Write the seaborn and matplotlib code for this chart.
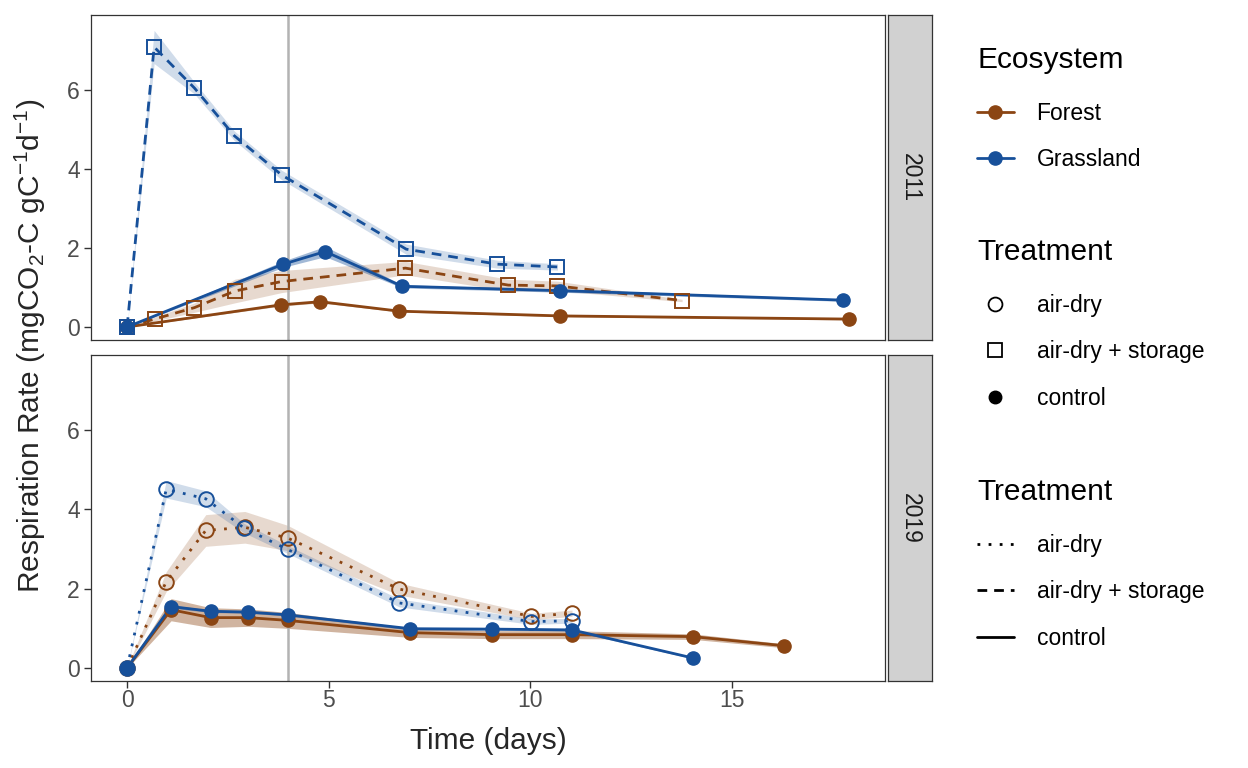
import numpy as np
import pandas as pd
import matplotlib
matplotlib.use("Agg")
import matplotlib.pyplot as plt
from matplotlib.lines import Line2D
import seaborn as sns

years = ["2011", "2019"]
ecosystems = ["Forest", "Grassland"]
treatments = ["air-dry", "air-dry + storage", "control"]

# 2011 -- grassland, air-dry + storage
g11_store_day = [0, 0.67, 1.67, 2.66, 3.83, 6.92, 9.18, 10.67]
g11_store_rate = [0, 7.09, 6.05, 4.84, 3.85, 1.97, 1.59, 1.52]
g11_store_se = [0.02, 0.42, 0.15, 0.12, 0.12, 0.13, 0.10, 0.08]
# 2011 -- grassland, control
g11_ctrl_day = [0, 3.87, 4.91, 6.82, 10.74, 17.74]
g11_ctrl_rate = [0, 1.59, 1.91, 1.03, 0.92, 0.68]
g11_ctrl_se = [0.01, 0.08, 0.13, 0.04, 0.04, 0.03]
# 2011 -- forest, air-dry + storage
f11_store_day = [0, 0.68, 1.67, 2.67, 3.83, 6.90, 9.45, 10.67, 13.76]
f11_store_rate = [0, 0.20, 0.49, 0.91, 1.15, 1.49, 1.06, 1.04, 0.67]
f11_store_se = [0.01, 0.05, 0.12, 0.30, 0.28, 0.17, 0.15, 0.12, 0.03]
# 2011 -- forest, control
f11_ctrl_day = [0, 3.81, 4.79, 6.75, 10.74, 17.89]
f11_ctrl_rate = [0, 0.56, 0.64, 0.40, 0.28, 0.20]
f11_ctrl_se = [0.01, 0.03, 0.03, 0.02, 0.02, 0.02]

# 2019 -- grassland, air-dry
g19_dry_day = [0, 0.97, 1.95, 2.90, 3.98, 6.75, 10.02, 11.03]
g19_dry_rate = [0, 4.51, 4.27, 3.53, 2.99, 1.64, 1.17, 1.19]
g19_dry_se = [0.01, 0.22, 0.20, 0.12, 0.10, 0.10, 0.07, 0.06]
# 2019 -- forest, air-dry
f19_dry_day = [0, 0.97, 1.95, 2.92, 3.98, 6.75, 10.02, 11.03]
f19_dry_rate = [0, 2.18, 3.47, 3.55, 3.28, 1.99, 1.30, 1.38]
f19_dry_se = [0.01, 0.25, 0.40, 0.40, 0.32, 0.15, 0.08, 0.08]
# 2019 -- grassland, control
g19_ctrl_day = [0, 1.09, 2.07, 3.00, 3.98, 7.02, 9.04, 11.03, 14.03]
g19_ctrl_rate = [0, 1.55, 1.43, 1.41, 1.34, 0.99, 0.98, 0.96, 0.25]
g19_ctrl_se = [0.01, 0.04, 0.03, 0.03, 0.03, 0.03, 0.03, 0.03, 0.02]
# 2019 -- forest, control
f19_ctrl_day = [0, 1.09, 2.07, 3.00, 3.98, 7.02, 9.04, 11.03, 14.03, 16.29]
f19_ctrl_rate = [0, 1.47, 1.27, 1.27, 1.20, 0.89, 0.84, 0.84, 0.79, 0.56]
f19_ctrl_se = [0.01, 0.28, 0.25, 0.22, 0.20, 0.12, 0.10, 0.10, 0.07, 0.05]

x_ticks = [0, 5, 10, 15]
y_ticks = [0, 2, 4, 6]
rewet_day = 4


def series(year, eco, trt, days, rates, ses):
    return pd.DataFrame({"year": year, "ecosystem": eco, "treatment": trt,
                         "day": days, "rate": rates, "se": ses})


df = pd.concat([
    series("2011", "Grassland", "air-dry + storage", g11_store_day, g11_store_rate, g11_store_se),
    series("2011", "Grassland", "control", g11_ctrl_day, g11_ctrl_rate, g11_ctrl_se),
    series("2011", "Forest", "air-dry + storage", f11_store_day, f11_store_rate, f11_store_se),
    series("2011", "Forest", "control", f11_ctrl_day, f11_ctrl_rate, f11_ctrl_se),
    series("2019", "Grassland", "air-dry", g19_dry_day, g19_dry_rate, g19_dry_se),
    series("2019", "Forest", "air-dry", f19_dry_day, f19_dry_rate, f19_dry_se),
    series("2019", "Grassland", "control", g19_ctrl_day, g19_ctrl_rate, g19_ctrl_se),
    series("2019", "Forest", "control", f19_ctrl_day, f19_ctrl_rate, f19_ctrl_se),
], ignore_index=True)

pal = {"Forest": "#8B4513", "Grassland": "#17509A"}
dash_map = {"air-dry": (1, 3), "air-dry + storage": (3.5, 2.5), "control": ""}
ls_map = {"air-dry": (0, (1, 3)), "air-dry + storage": (0, (3.5, 2.5)), "control": "-"}

sns.set_theme(style="white")
plt.rcParams["font.family"] = ["Liberation Sans", "DejaVu Sans"]
plt.rcParams["mathtext.fontset"] = "custom"
plt.rcParams["mathtext.rm"] = "Liberation Sans"
plt.rcParams["mathtext.it"] = "Liberation Sans:italic"

fig = plt.figure(figsize=(12.48, 7.68), dpi=100)
W, H = 1248, 768
# panels (pixel boxes from the reference)
panel_boxes = [(91, 15, 885, 340), (91, 355, 885, 681)]
strip_x = (888, 932)

axes = []
for (x0, y0, x1, y1), year in zip(panel_boxes, years):
    ax = fig.add_axes([x0 / W, 1 - y1 / H, (x1 - x0) / W, (y1 - y0) / H])
    axes.append(ax)
    sub = df[df.year == year]

    # ribbons
    for (eco, trt), g in sub.groupby(["ecosystem", "treatment"]):
        g = g.sort_values("day")
        ax.fill_between(g.day, g.rate - g.se, g.rate + g.se, color=pal[eco],
                        alpha=0.4 if trt == "control" else 0.2, lw=0, zorder=1)

    ax.axvline(rewet_day, color="#B3B3B3", lw=1.8, zorder=1.5)

    # lines
    sns.lineplot(data=sub, x="day", y="rate", hue="ecosystem", style="treatment",
                 palette=pal, hue_order=ecosystems, dashes=dash_map,
                 estimator=None, sort=True, lw=2.0, legend=False, ax=ax, zorder=2)

    # points
    for (eco, trt), g in sub.groupby(["ecosystem", "treatment"]):
        if trt == "control":
            ax.plot(g.day, g.rate, ls="none", marker="o", ms=9.5, color=pal[eco],
                    mec=pal[eco], zorder=3)
        else:
            ax.plot(g.day, g.rate, ls="none", marker="o" if trt == "air-dry" else "s",
                    ms=10.5 if trt == "air-dry" else 10, mfc="none", mec=pal[eco],
                    mew=1.4, zorder=3)

    ax.set_xlim(-0.895, 18.79)
    ax.set_ylim(-0.33, 7.9)
    ax.set_yticks(y_ticks)
    ax.set_xticks(x_ticks)
    ax.set_xlabel("")
    ax.set_ylabel("")
    ax.tick_params(axis="both", bottom=True, left=True, length=5, width=1.0,
                   color="#333333", labelsize=16.5, labelcolor="#4D4D4D", pad=3)
    ax.tick_params(axis="x", pad=1)
    for s in ax.spines.values():
        s.set_color("#333333")
        s.set_linewidth(0.9)

    # facet strip
    sax = fig.add_axes([strip_x[0] / W, 1 - y1 / H, (strip_x[1] - strip_x[0]) / W, (y1 - y0) / H])
    sax.set_facecolor("#D1D1D1")
    sax.set_xticks([])
    sax.set_yticks([])
    for s in sax.spines.values():
        s.set_color("#333333")
        s.set_linewidth(0.9)
    sax.text(0.5, 0.5, year, rotation=-90, ha="center", va="center",
             fontsize=16.5, color="#1A1A1A", transform=sax.transAxes)

axes[0].tick_params(axis="x", bottom=False, labelbottom=False)

fig.text(488 / W, 1 - 741 / H, "Time (days)", ha="center", va="center", fontsize=21.5)
fig.text(30 / W, 1 - 346 / H, r"Respiration Rate (mgCO$_2$-C gC$^{-1}$d$^{-1}$)",
         rotation=90, ha="center", va="center", fontsize=21.5)

# legends
eco_handles = [Line2D([], [], color=pal[e], lw=2.0, marker="o", ms=9.5) for e in ecosystems]
shape_handles = [
    Line2D([], [], ls="none", marker="o", ms=10, mfc="none", mec="black", mew=1.3),
    Line2D([], [], ls="none", marker="s", ms=9.5, mfc="none", mec="black", mew=1.3),
    Line2D([], [], ls="none", marker="o", ms=9, color="black"),
]
line_handles = [Line2D([], [], color="black", lw=2.0, ls=ls_map[t]) for t in treatments]

leg_kw = dict(frameon=False, loc="upper left", fontsize=16.5, title_fontsize=21.5,
              handlelength=1.6, handletextpad=1.0, labelspacing=1.03,
              borderpad=0, borderaxespad=0, alignment="left")
for handles, labels, title, top in [(eco_handles, ecosystems, "Ecosystem", 46),
                                    (shape_handles, treatments, "Treatment", 238),
                                    (line_handles, treatments, "Treatment", 478)]:
    leg = fig.legend(handles, labels, title=title,
                     bbox_to_anchor=(977 / W, 1 - top / H), **leg_kw)
    leg.get_title().set_color("black")
    for t in leg.get_texts():
        t.set_color("black")
    leg._legend_box.sep = 20

fig.savefig("out.png", dpi=100)
